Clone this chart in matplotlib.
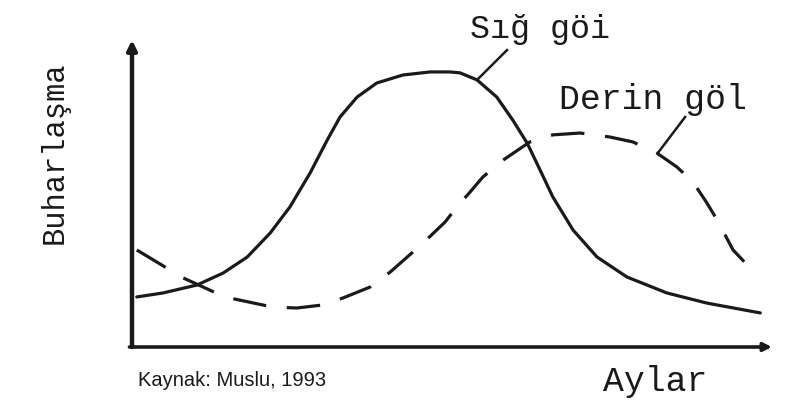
import matplotlib
matplotlib.use("Agg")
import matplotlib.pyplot as plt

# months (x) and evaporation (y), arbitrary units
sig_x = [0.09, 0.58, 1.22, 1.71, 2.16, 2.59, 2.96, 3.34, 3.66, 3.90, 4.22,
         4.59, 5.08, 5.59, 5.96, 6.15, 6.47, 6.84, 7.14, 7.41, 7.65, 7.89,
         8.27, 8.72, 9.28, 10.03, 10.78, 11.78]
sig_y = [1.63, 1.76, 2.02, 2.41, 2.93, 3.71, 4.56, 5.67, 6.74, 7.49, 8.14,
         8.60, 8.86, 8.96, 8.96, 8.93, 8.70, 8.14, 7.39, 6.64, 5.77, 4.89,
         3.81, 2.93, 2.28, 1.76, 1.43, 1.11]

derin_x = [0.09, 0.96, 1.74, 2.64, 3.09, 3.58, 3.96, 4.46, 4.84, 5.16, 5.46,
           5.87, 6.09, 6.34, 6.58, 6.96, 7.46, 7.89, 8.40, 8.96, 9.39, 9.84,
           10.22, 10.52, 10.78, 10.97, 11.27, 11.68]
derin_y = [3.16, 2.25, 1.63, 1.30, 1.27, 1.37, 1.60, 1.95, 2.44, 2.93, 3.39,
           4.07, 4.56, 5.05, 5.54, 6.09, 6.68, 6.91, 6.97, 6.84, 6.68, 6.32,
           5.86, 5.37, 4.69, 4.14, 3.16, 2.41]

mono = "Liberation Mono"
ink = "#1a1a1a"

fig = plt.figure(figsize=(8, 4), dpi=100)
ax = fig.add_axes([0.165, 0.1325, 0.8, 0.7675])
ax.set_xlim(0, 12)
ax.set_ylim(0, 10)
for s in ax.spines.values():
    s.set_visible(False)
ax.set_xticks([])
ax.set_yticks([])

# axes with arrows
ax.annotate("", xy=(0, 1.0), xytext=(0, 0), xycoords="axes fraction",
            arrowprops=dict(arrowstyle="-|>", lw=3.2, color=ink,
                            mutation_scale=14, shrinkA=0, shrinkB=0),
            annotation_clip=False)
ax.annotate("", xy=(1.0, 0), xytext=(-0.004, 0), xycoords="axes fraction",
            arrowprops=dict(arrowstyle="-|>", lw=2.6, color=ink,
                            mutation_scale=12, shrinkA=0, shrinkB=0),
            annotation_clip=False)

ax.plot(sig_x, sig_y, color=ink, lw=2.3, solid_capstyle="round",
        solid_joinstyle="round")
ax.plot(derin_x, derin_y, color=ink, lw=2.3, dashes=(10.5, 6.5),
        dash_capstyle="butt", dash_joinstyle="round")

# labels with leader lines
ax.text(7.65, 10.33, "Sığ göi", family=mono, fontsize=24, color=ink,
        ha="center", va="center")
ax.plot([7.03, 6.47], [9.67, 8.70], color=ink, lw=1.8, clip_on=False)
ax.text(9.77, 8.05, "Derin göl", family=mono, fontsize=25, color=ink,
        ha="center", va="center")
ax.plot([10.37, 9.86], [7.49, 6.32], color=ink, lw=1.8, clip_on=False)

fig.text(55 / 800, 1 - 153 / 400, "Buharlaşma", family=mono, fontsize=22,
         color=ink, rotation=90, ha="center", va="center")
fig.text(655 / 800, 1 - 381 / 400, "Aylar", family=mono, fontsize=25,
         color=ink, ha="center", va="center")
fig.text(138 / 800, 1 - 381 / 400, "Kaynak: Muslu, 1993",
         family="Liberation Sans", fontsize=14.5, color=ink,
         ha="left", va="center")

fig.savefig("out.png", dpi=100, facecolor="white")
